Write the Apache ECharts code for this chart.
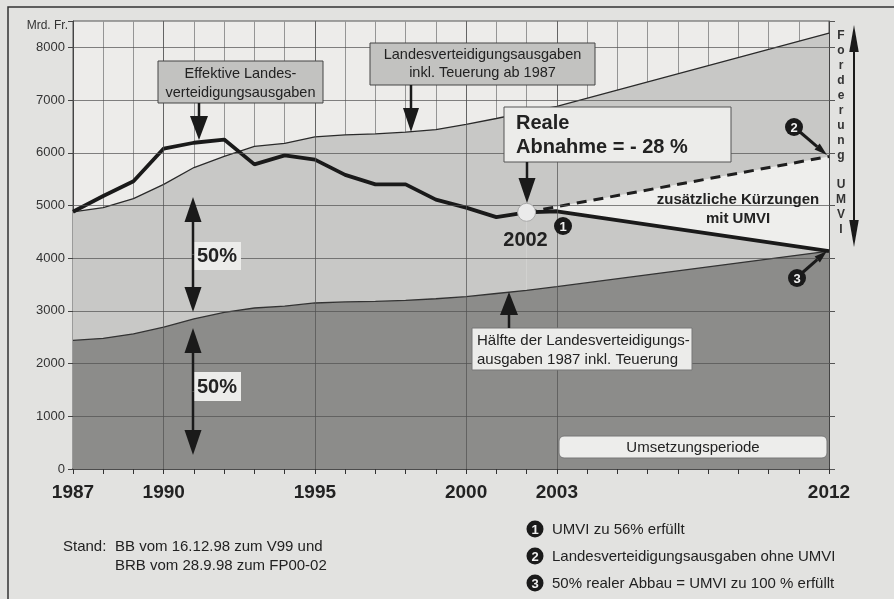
<!DOCTYPE html>
<html>
<head>
<meta charset="utf-8">
<script src="https://cdn.jsdelivr.net/npm/echarts@6/dist/echarts.min.js"></script>
<style>
html, body { margin: 0; padding: 0; background: #e2e2e0; }
#chart { width: 894px; height: 599px; }
</style>
</head>
<body>
<div id="chart"></div>
<script>
// Jahre: 1987-2003 jaehrlich, danach Gerade bis 2012
var years = [1987, 1988, 1989, 1990, 1991, 1992, 1993, 1994, 1995, 1996, 1997, 1998, 1999, 2000, 2001, 2002, 2003, 2012];
// Landesverteidigungsausgaben inkl. Teuerung ab 1987
var upper = [4880, 4960, 5130, 5400, 5720, 5930, 6120, 6180, 6300, 6340, 6360, 6390, 6440, 6540, 6650, 6770, 6880, 8270];
// Haelfte der Ausgaben 1987 inkl. Teuerung
var half = [2440, 2480, 2565, 2690, 2850, 2970, 3055, 3090, 3150, 3170, 3180, 3200, 3230, 3270, 3330, 3390, 3460, 4135];
// Effektive Landesverteidigungsausgaben (ab 2003 Planung)
var effective = [4880, 5180, 5460, 6080, 6190, 6250, 5780, 5950, 5870, 5580, 5400, 5400, 5110, 4960, 4780, 4870, 4890, 4135];
// Landesverteidigungsausgaben ohne UMVI (gestrichelt)
var cutYears = [2002, 2012];
var cutValues = [4870, 5930];
// beschriftete Jahre auf der x-Achse, Gitterlinien der y-Achse
var labelYears = [1987, 1990, 1995, 2000, 2003, 2012];
var yGrid = [1000, 2000, 3000, 4000, 5000, 6000, 7000, 8000];

var F = "'Liberation Sans', Arial, sans-serif";
var chart = echarts.init(document.getElementById('chart'));

function pairs(xs, ys) {
    return xs.map(function (x, i) { return [x, ys[i]]; });
}

// Hilfsfunktionen fuer die Beschriftungen
function txt(x, y, s, size, bold, align, color) {
    return {
        type: 'text', x: x, y: y, z: 102,
        style: {
            text: s, fontFamily: F, fontSize: size, fontWeight: bold ? 'bold' : 'normal',
            fill: color || '#222', align: align || 'left', verticalAlign: 'middle'
        }
    };
}
function box(x, y, w, h, fill, stroke, r) {
    return {
        type: 'rect', z: 99, shape: { x: x, y: y, width: w, height: h, r: r || 0 },
        style: { fill: fill, stroke: stroke, lineWidth: stroke ? 1 : 0 }
    };
}
function arrow(x1, y1, x2, y2, hl, hw, lw) {
    var dx = x2 - x1, dy = y2 - y1, L = Math.sqrt(dx * dx + dy * dy);
    var ux = dx / L, uy = dy / L;
    var bx = x2 - ux * hl, by = y2 - uy * hl;
    return [
        { type: 'line', z: 100, shape: { x1: x1, y1: y1, x2: bx, y2: by }, style: { stroke: '#1a1a1a', lineWidth: lw } },
        { type: 'polygon', z: 100, shape: { points: [[x2, y2], [bx - uy * hw / 2, by + ux * hw / 2], [bx + uy * hw / 2, by - ux * hw / 2]] }, style: { fill: '#1a1a1a' } }
    ];
}
function dblArrow(x, y1, y2, hl, hw, lw) {
    var m = (y1 + y2) / 2;
    return arrow(x, m, x, y1, hl, hw, lw).concat(arrow(x, m, x, y2, hl, hw, lw));
}
function marker(cx, cy, n, r) {
    return [
        { type: 'circle', z: 101, shape: { cx: cx, cy: cy, r: r }, style: { fill: '#1a1a1a' } },
        txt(cx, cy + 1, String(n), 13, true, 'center', '#f0f0f0')
    ];
}

var g = [];
g.push({ type: 'rect', z: 98, shape: { x: 8, y: 7, width: 900, height: 620 }, style: { fill: null, stroke: '#333', lineWidth: 1.5 } });
g.push(txt(68, 26, 'Mrd. Fr.', 12, false, 'right', '#333'));

// Effektive Landesverteidigungsausgaben
g.push(box(158, 61, 165, 42, '#c2c2c0', '#444'));
g.push(txt(240.5, 73.5, 'Effektive Landes-', 14.5, false, 'center'));
g.push(txt(240.5, 92.5, 'verteidigungsausgaben', 14.5, false, 'center'));
g = g.concat(arrow(199, 103, 199, 140, 24, 18, 2.5));

// Landesverteidigungsausgaben inkl. Teuerung
g.push(box(370, 43, 225, 42, '#c2c2c0', '#444'));
g.push(txt(482.5, 54.5, 'Landesverteidigungsausgaben', 14.5, false, 'center'));
g.push(txt(482.5, 73, 'inkl. Teuerung ab 1987', 14.5, false, 'center'));
g = g.concat(arrow(411, 85, 411, 132, 24, 16, 2.5));

// Reale Abnahme
g.push(box(504, 107, 227, 55, '#ececea', '#555'));
g.push(txt(516, 123, 'Reale', 20, true));
g.push(txt(516, 147.5, 'Abnahme = - 28 %', 20, true));
g = g.concat(arrow(527, 162, 527, 203, 25, 17, 2.5));
g.push(txt(525.5, 240, '2002', 20, true, 'center'));

// zusaetzliche Kuerzungen
g.push(txt(738, 200, 'zusätzliche Kürzungen', 15, true, 'center'));
g.push(txt(738, 218.5, 'mit UMVI', 15, true, 'center'));

// Forderung UMVI
var letters = 'Forderung UMVI'.split('');
letters.forEach(function (c, i) {
    if (c !== ' ') g.push(txt(841, 36 + i * 14.9, c, 12, true, 'center', '#333'));
});
g = g.concat(dblArrow(854, 25, 247, 27, 9.5, 2));

// 50 % Pfeile
g = g.concat(dblArrow(193, 197, 312, 25, 17, 2.5));
g = g.concat(dblArrow(193, 328, 455, 25, 17, 2.5));
g.push(box(193, 242, 48, 28, '#ececea'));
g.push(txt(217, 256.5, '50%', 20, true, 'center'));
g.push(box(193, 372, 48, 29, '#ececea'));
g.push(txt(217, 387, '50%', 20, true, 'center'));

// Haelfte der Landesverteidigungsausgaben
g.push(box(472, 328, 220, 42, '#ececea', '#777'));
g.push(txt(477, 341, 'Hälfte der Landesverteidigungs-', 15, false));
g.push(txt(477, 359.5, 'ausgaben 1987 inkl. Teuerung', 15, false));
g = g.concat(arrow(509, 328, 509, 292, 23, 18, 2.5));

// Umsetzungsperiode
g.push(box(559, 436, 268, 22, '#ededeb', '#777', 5));
g.push(txt(693, 447.5, 'Umsetzungsperiode', 15, false, 'center'));

// Nummern im Diagramm
g = g.concat(marker(563, 226, 1, 9));
g = g.concat(arrow(800, 132, 827, 155, 13, 8, 3));
g = g.concat(marker(794, 127, 2, 9));
g = g.concat(arrow(802, 273, 827, 251, 13, 8, 3));
g = g.concat(marker(797, 278, 3, 9));

// Legende
var legendText = ['UMVI zu 56% erfüllt', 'Landesverteidigungsausgaben ohne UMVI', '50% realer Abbau = UMVI zu 100 % erfüllt'];
legendText.forEach(function (s, i) {
    var y = 529 + i * 27;
    g = g.concat(marker(535, y, i + 1, 8.5));
    g.push(txt(552, y + 1, s, 15, false, 'left', '#222'));
});

// Stand
g.push(txt(63, 547, 'Stand:', 15, false, 'left', '#222'));
g.push(txt(115, 547, 'BB vom 16.12.98 zum V99 und', 15, false, 'left', '#222'));
g.push(txt(115, 565.5, 'BRB vom 28.9.98 zum FP00-02', 15, false, 'left', '#222'));

// Gitterlinien, die ueber den Flaechen liegen
var gridLines = labelYears.slice(1, 5).map(function (y) { return { xAxis: y }; })
    .concat(yGrid.map(function (v) { return { yAxis: v }; }));

var option = {
    backgroundColor: '#e2e2e0',
    animation: false,
    grid: { left: 73, right: 65, top: 21, bottom: 130, show: true, backgroundColor: '#edecea', borderWidth: 1, borderColor: '#555' },
    xAxis: {
        type: 'value', min: 1987, max: 2012, interval: 1,
        axisLine: { lineStyle: { color: '#333', width: 1.5 } },
        axisTick: { length: 5, lineStyle: { color: '#333' } },
        axisLabel: {
            margin: 14, fontFamily: F, fontSize: 19, fontWeight: 'bold', color: '#222',
            formatter: function (v) { return labelYears.indexOf(v) >= 0 ? String(v) : ''; }
        },
        splitLine: { show: true, lineStyle: { color: '#959595', width: 1 } }
    },
    yAxis: [{
        type: 'value', min: 0, max: 8500, interval: 1000,
        axisLine: { show: true, lineStyle: { color: '#444', width: 1 } },
        axisTick: { show: true, length: 5, lineStyle: { color: '#444' } },
        axisLabel: {
            margin: 8, fontFamily: F, fontSize: 13, color: '#333',
            formatter: function (v) { return v > 8000 ? '' : String(v); }
        },
        splitLine: { show: false }
    }, {
        type: 'value', min: 0, max: 8500, interval: 1000, position: 'right',
        axisLine: { show: true, lineStyle: { color: '#444', width: 1 } },
        axisTick: { show: true, length: 6, lineStyle: { color: '#555' } },
        axisLabel: { show: false },
        splitLine: { show: false }
    }],
    series: [
        {
            name: 'Landesverteidigungsausgaben inkl. Teuerung', type: 'line', data: pairs(years, upper),
            symbol: 'none', lineStyle: { color: '#2a2a2a', width: 1.3 },
            areaStyle: { color: '#c8c8c6', opacity: 1 }
        },
        {
            name: 'ohne UMVI', type: 'line', data: pairs(cutYears, cutValues),
            symbol: 'none', lineStyle: { color: '#1e1e1e', width: 3, type: [10, 7] },
            areaStyle: { color: '#eeeeec', opacity: 1 }
        },
        {
            name: 'Basis', type: 'line', data: pairs(years.slice(15), effective.slice(15)),
            symbol: 'none', lineStyle: { width: 0 },
            areaStyle: { color: '#c8c8c6', opacity: 1 }
        },
        {
            name: 'Hälfte', type: 'line', data: pairs(years, half),
            symbol: 'none', lineStyle: { color: '#333', width: 1.3 },
            areaStyle: { color: '#8c8c8a', opacity: 1 },
            markLine: {
                silent: true, symbol: 'none', label: { show: false },
                lineStyle: { color: '#505050', width: 1, type: 'solid', opacity: 0.7 },
                data: gridLines
            }
        },
        {
            name: 'Effektive Landesverteidigungsausgaben', type: 'line', data: pairs(years, effective),
            symbol: 'none', lineStyle: { color: '#1a1a1a', width: 3.8 },
            markPoint: {
                symbol: 'circle', symbolSize: 18, label: { show: false },
                itemStyle: { color: '#ebebeb', borderColor: '#aaa', borderWidth: 1 },
                data: [{ coord: [years[15], effective[15]] }]
            }
        }
    ],
    graphic: g
};
chart.setOption(option);
</script>
</body>
</html>
